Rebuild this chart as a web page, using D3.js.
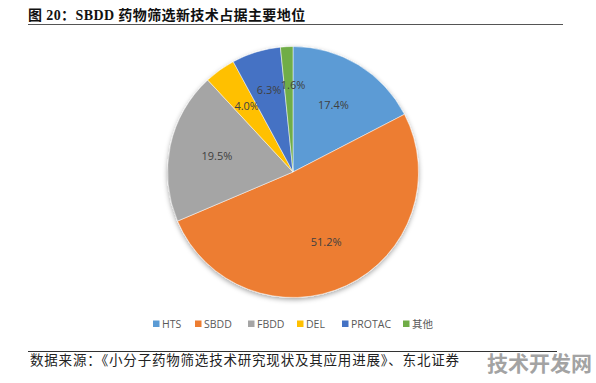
<!DOCTYPE html>
<html>
<head>
<meta charset="utf-8">
<title>SBDD</title>
<script src="https://cdn.jsdelivr.net/npm/d3@7"></script>
<style>
  body { margin: 0; background: #fff; }
</style>
</head>
<body>
<div id="container"></div>
<script>
  const categories = ["HTS", "SBDD", "FBDD", "DEL", "PROTAC", "其他"];
  const shares = [17.4, 51.2, 19.5, 4.0, 6.3, 1.6];
  const colors = ["#5B9BD5", "#ED7D31", "#A5A5A5", "#FFC000", "#4472C4", "#70AD47"];

  const width = 596;
  const height = 383;
  const cx = 293;
  const cy = 172;
  const radius = 125.5;

  // small nudges so the thin-slice labels sit like the original
  const labelOffsets = [[0, 0], [0, 0], [0, 0], [-1, -3], [-1, -7], [4, -9]];

  const svg = d3.create("svg")
      .attr("width", width)
      .attr("height", height);

  // Shadow filter for the pie.
  const defs = svg.append("defs");
  const filter = defs.append("filter").attr("id", "shadow")
      .attr("x", "-20%").attr("y", "-20%").attr("width", "140%").attr("height", "140%");
  filter.append("feDropShadow")
      .attr("dx", 0).attr("dy", 2).attr("stdDeviation", 2.5)
      .attr("flood-color", "#000").attr("flood-opacity", 0.35);

  // Title and rules.
  svg.append("text")
      .attr("x", 28).attr("y", 20)
      .attr("font-family", "'Liberation Serif', 'Noto Sans CJK SC', serif")
      .attr("font-weight", "bold")
      .attr("font-size", 14)
      .attr("letter-spacing", 0.4)
      .attr("fill", "#111")
      .text("图 20：SBDD 药物筛选新技术占据主要地位");

  svg.append("line")
      .attr("x1", 28).attr("x2", 563).attr("y1", 24.5).attr("y2", 24.5)
      .attr("stroke", "#555").attr("stroke-width", 1);

  svg.append("line")
      .attr("x1", 28).attr("x2", 557).attr("y1", 351.5).attr("y2", 351.5)
      .attr("stroke", "#333").attr("stroke-width", 1);

  svg.append("text")
      .attr("x", 30).attr("y", 365)
      .attr("font-family", "'Noto Sans CJK SC', sans-serif")
      .attr("font-size", 13.5)
      .attr("letter-spacing", 0.8)
      .attr("fill", "#222")
      .text("数据来源：《小分子药物筛选技术研究现状及其应用进展》、东北证券");

  svg.append("text")
      .attr("x", 487).attr("y", 371)
      .attr("font-family", "'Noto Sans CJK SC', sans-serif")
      .attr("font-weight", "bold")
      .attr("font-size", 21)
      .attr("fill", "#a3a3a3")
      .text("技术开发网");

  // Pie.
  const pie = d3.pie().sort(null).value(d => d)(shares);
  const arc = d3.arc().innerRadius(0).outerRadius(radius);
  const labelArc = d3.arc().innerRadius(radius * 0.62).outerRadius(radius * 0.62);

  const g = svg.append("g")
      .attr("transform", `translate(${cx},${cy})`);

  g.append("g")
      .attr("filter", "url(#shadow)")
      .selectAll("path")
      .data(pie)
      .join("path")
      .attr("d", arc)
      .attr("fill", (d, i) => colors[i])
      .attr("stroke", "#fff")
      .attr("stroke-width", 0.5);

  g.append("g")
      .selectAll("text")
      .data(pie)
      .join("text")
      .attr("transform", (d, i) => {
        const [x, y] = labelArc.centroid(d);
        return `translate(${x + labelOffsets[i][0]},${y + labelOffsets[i][1]})`;
      })
      .attr("text-anchor", "middle")
      .attr("dy", "0.35em")
      .attr("font-family", "'Open Sans', 'DejaVu Sans', sans-serif")
      .attr("font-size", 11)
      .attr("fill", "#404040")
      .text(d => d.data.toFixed(1) + "%");

  // Legend.
  const legendX = [153, 195, 248, 297, 342, 403];
  const legend = svg.append("g")
      .selectAll("g")
      .data(categories)
      .join("g")
      .attr("transform", (d, i) => `translate(${legendX[i]},324)`);

  legend.append("rect")
      .attr("x", 0).attr("y", -3.5)
      .attr("width", 6.5).attr("height", 6.5)
      .attr("fill", (d, i) => colors[i]);

  legend.append("text")
      .attr("x", 9).attr("dy", "0.35em")
      .attr("font-family", "'Open Sans', 'Noto Sans CJK SC', sans-serif")
      .attr("font-size", 10.5)
      .attr("fill", "#595959")
      .text(d => d);

  document.getElementById("container").append(svg.node());
</script>
</body>
</html>
